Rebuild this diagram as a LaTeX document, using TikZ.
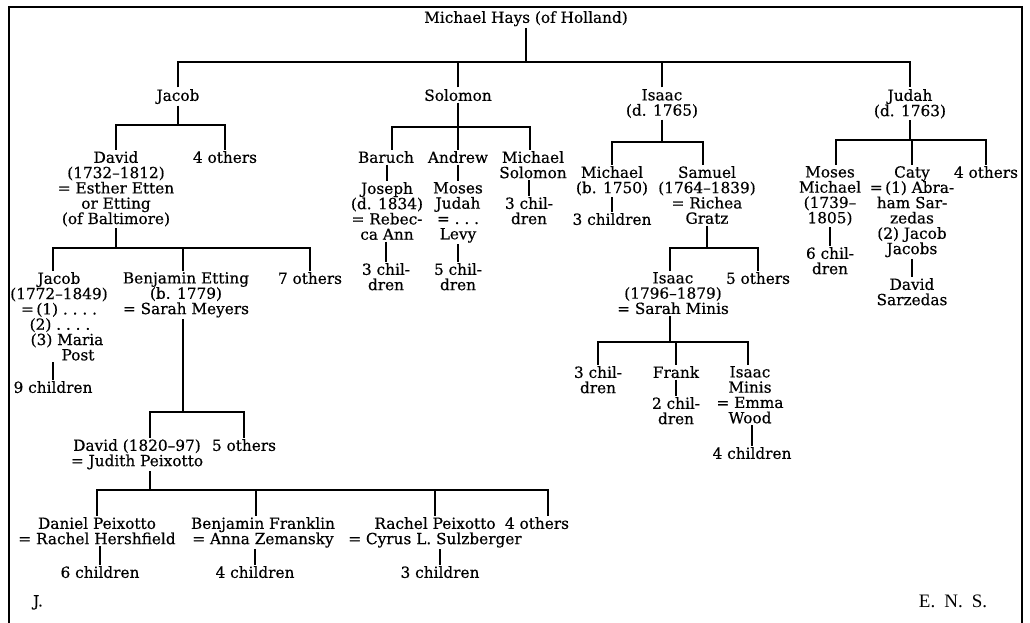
\documentclass[tikz,border=0pt]{standalone}
\usepackage{fontspec}
\setmainfont{DejaVu Serif}[FakeBold=0.5]
\newfontfamily\ensfont{Liberation Serif}
\newcommand\fs{\fontsize{15.3}{15.3}\selectfont}
\begin{document}
\begin{tikzpicture}[x=1pt,y=-1pt,
  p/.style={align=center, inner sep=1.5pt, anchor=north, yshift=7.5pt, font=\fs},
  ln/.style={line width=1.3pt}]
\useasboundingbox (0,0) rectangle (1030,623);
\draw[line width=2.4pt] (9,623) -- (9,7) -- (1022,7) -- (1022,623);

% generation 1-2
\node[p] (root) at (526,17) {Michael Hays (of Holland)};
\node[p] (jacob) at (178,95) {Jacob};
\node[p] (solomon) at (458,95) {Solomon};
\node[p] (isaac) at (662,95) {Isaac\\(d. 1765)};
\node[p] (judah) at (910,95) {Judah\\(d. 1763)};

% Jacob branch
\node[p] (david) at (116,157) {David\\(1732–1812)\\= Esther Etten\\or Etting\\(of Baltimore)};
\node[p] (oth4a) at (225,157) {4 others};
\node[p] (jacobb) at (59,278) {Jacob\\(1772–1849)\\=\,(1)\ .\ .\ .\ .\hspace*{16pt}\\\hspace*{2pt}(2)\ .\ .\ .\ .\\\hspace*{16pt}(3) Maria\\\hspace*{38pt}Post};
\node[p] (ch9) at (53,387) {9 children};
\node[p] (benj) at (186,278) {Benjamin Etting\\(b. 1779)\\= Sarah Meyers};
\node[p] (oth7) at (310,278) {7 others};
\node[p] (david2) at (137,445) {David (1820–97)\\= Judith Peixotto};
\node[p] (oth5a) at (244,445) {5 others};
\node[p] (daniel) at (97,523) {Daniel Peixotto\\= Rachel Hershfield};
\node[p] (benjf) at (263,523) {Benjamin Franklin\\= Anna Zemansky};
\node[p] (rachel) at (435,523) {Rachel Peixotto\\= Cyrus L. Sulzberger};
\node[p] (oth4b) at (537,523) {4 others};
\node[p] (ch6) at (100,572) {6 children};
\node[p] (ch4a) at (255,572) {4 children};
\node[p] (ch3a) at (440,572) {3 children};
\node[p] (J) at (38,601) {J.};
\node[p, font=\ensfont\fontsize{19}{19}\selectfont] (ens) at (953,601) {E.\hspace{9pt}N.\hspace{9pt}S.};

% Solomon branch
\node[p] (baruch) at (386,157) {Baruch};
\node[p] (andrew) at (458,157) {Andrew};
\node[p] (michs) at (533,157) {Michael\\Solomon};
\node[p] (joseph) at (387,188) {Joseph\\(d. 1834)\\= Rebec-\\ca Ann};
\node[p] (mosesj) at (458,188) {Moses\\Judah\\=\ .\ .\ .\\Levy};
\node[p] (ch3b) at (386,269) {3 chil-\\dren};
\node[p] (ch5) at (458,269) {5 chil-\\dren};
\node[p] (ch3c) at (529,203) {3 chil-\\dren};

% Isaac branch
\node[p] (michb) at (612,172) {Michael\\(b. 1750)};
\node[p] (ch3d) at (612,219) {3 children};
\node[p] (samuel) at (707,172) {Samuel\\(1764–1839)\\= Richea\\Gratz};
\node[p] (isaac2) at (673,278) {Isaac\\(1796–1879)\\= Sarah Minis};
\node[p] (oth5b) at (758,278) {5 others};
\node[p] (ch3e) at (598,372) {3 chil-\\dren};
\node[p] (frank) at (676,372) {Frank};
\node[p] (isaacm) at (750,372) {Isaac\\Minis\\= Emma\\Wood};
\node[p] (ch2) at (676,403) {2 chil-\\dren};
\node[p] (ch4b) at (752,453) {4 children};

% Judah branch
\node[p] (mosesm) at (830,172) {Moses\\Michael\\(1739–\\1805)};
\node[p] (ch6b) at (830,253) {6 chil-\\dren};
\node[p] (caty) at (912,172) {Caty\\=\,(1) Abra-\\ham Sar-\\zedas\\(2) Jacob\\Jacobs};
\node[p] (davids) at (912,284) {David\\Sarzedas};
\node[p] (oth4c) at (986,172) {4 others};

% bar levels
\coordinate (y0) at (0,62);
\coordinate (y1) at (0,125);
\coordinate (y2) at (0,248);
\coordinate (y3) at (0,412);
\coordinate (y4) at (0,490);
\coordinate (y5) at (0,127);
\coordinate (y6) at (0,142);
\coordinate (y7) at (0,248);
\coordinate (y8) at (0,342);
\coordinate (y9) at (0,140);

% root
\draw[ln] (root.south) -- (root.south |- y0);
\draw[ln] (jacob.north) -- (jacob.north |- y0) -- (judah.north |- y0) -- (judah.north);
\draw[ln] (solomon.north) -- (solomon.north |- y0);
\draw[ln] (isaac.north) -- (isaac.north |- y0);

% Jacob
\draw[ln] (jacob.south) -- (jacob.south |- y1);
\draw[ln] (david.north) -- (david.north |- y1) -- (oth4a.north |- y1) -- (oth4a.north);
\draw[ln] (david.south) -- (david.south |- y2);
\draw[ln] ([xshift=-6pt]jacobb.north) |- (oth7.north |- y2) -- (oth7.north);
\draw[ln] ([xshift=-3pt]benj.north) -- ([xshift=-3pt]benj.north |- y2);
\draw[ln] (ch9.north |- jacobb.south) -- (ch9.north);
\draw[ln] ([xshift=-3pt]benj.south) -- ([xshift=-3pt]benj.south |- y3);
\draw[ln] ([xshift=13pt]david2.north) |- (oth5a.north |- y3) -- (oth5a.north);
\draw[ln] ([xshift=13pt]david2.south) -- ([xshift=13pt]david2.south |- y4);
\draw[ln] (daniel.north) |- ([xshift=11pt]oth4b.north |- y4) -- ([xshift=11pt]oth4b.north);
\draw[ln] ([xshift=-7pt]benjf.north) -- ([xshift=-7pt]benjf.north |- y4);
\draw[ln] (rachel.north) -- (rachel.north |- y4);
\draw[ln] (ch6.north |- daniel.south) -- (ch6.north);
\draw[ln] (ch4a.north |- benjf.south) -- (ch4a.north);
\draw[ln] (ch3a.north |- rachel.south) -- (ch3a.north);

% Solomon
\draw[ln] (solomon.south) -- (solomon.south |- y5);
\draw[ln] ([xshift=6pt]baruch.north) |- ([xshift=-3pt]michs.north |- y5) -- ([xshift=-3pt]michs.north);
\draw[ln] (andrew.north) -- (andrew.north |- y5);
\draw[ln] (joseph.north |- baruch.south) -- (joseph.north);
\draw[ln] (mosesj.north |- andrew.south) -- (mosesj.north);
\draw[ln] (ch3c.north |- michs.south) -- (ch3c.north);
\draw[ln] (ch3b.north |- joseph.south) -- (ch3b.north);
\draw[ln] (ch5.north |- mosesj.south) -- (ch5.north);

% Isaac
\draw[ln] (isaac.south) -- (isaac.south |- y6);
\draw[ln] (michb.north) |- ([xshift=-4pt]samuel.north |- y6) -- ([xshift=-4pt]samuel.north);
\draw[ln] (ch3d.north |- michb.south) -- (ch3d.north);
\draw[ln] (samuel.south) -- (samuel.south |- y7);
\draw[ln] ([xshift=-3pt]isaac2.north) |- (oth5b.north |- y7) -- (oth5b.north);
\draw[ln] ([xshift=-3pt]isaac2.south) -- ([xshift=-3pt]isaac2.south |- y8);
\draw[ln] (ch3e.north) |- ([xshift=-2pt]isaacm.north |- y8) -- ([xshift=-2pt]isaacm.north);
\draw[ln] (frank.north) -- (frank.north |- y8);
\draw[ln] (ch2.north |- frank.south) -- (ch2.north);
\draw[ln] (ch4b.north |- isaacm.south) -- (ch4b.north);

% Judah
\draw[ln] (judah.south) -- (judah.south |- y9);
\draw[ln] ([xshift=6pt]mosesm.north) |- (oth4c.north |- y9) -- (oth4c.north);
\draw[ln] (caty.north) -- (caty.north |- y9);
\draw[ln] (ch6b.north |- mosesm.south) -- (ch6b.north);
\draw[ln] (davids.north |- caty.south) -- (davids.north);
\end{tikzpicture}
\end{document}
